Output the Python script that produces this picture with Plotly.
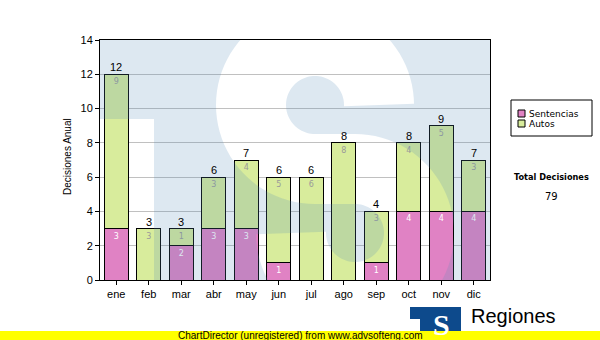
import numpy as np
import plotly.graph_objects as go

# ---------------- data ----------------
months = ["ene", "feb", "mar", "abr", "may", "jun", "jul", "ago", "sep", "oct", "nov", "dic"]
sentencias = [3, 0, 2, 3, 3, 1, 0, 0, 1, 4, 4, 4]
autos = [9, 3, 1, 3, 4, 5, 6, 8, 3, 4, 5, 3]
series_names = ["Sentencias", "Autos"]
y_ticks = [0, 2, 4, 6, 8, 10, 12, 14]
y_title = "Decisiones Anual"
total_title = "Total Decisiones"
brand_name = "Regiones"
footer_text = "ChartDirector (unregistered) from www.advsofteng.com"

totals = [s + a for s, a in zip(sentencias, autos)]
grand_total = sum(totals)
idx = list(range(len(months)))

# ---------------- canvas geometry ----------------
W, H = 600, 340
ML, MR, MT, MB = 100, 110, 40, 60
PW, PH = W - ML - MR, H - MT - MB
X_RANGE = (-0.5, len(months) - 0.5)
Y_RANGE = (0, 14)

PINK = "#e082c4"
GREEN = "#d8ec9c"
FONT_AX = "Liberation Sans, Arial, sans-serif"
FONT_UI = "DejaVu Sans, Verdana, sans-serif"


def to_paper(px, py):
    return (px - ML) / PW, (H - MB - py) / PH


def to_data(px, py):
    x = X_RANGE[0] + (px - ML) / PW * (X_RANGE[1] - X_RANGE[0])
    y = Y_RANGE[1] - (py - MT) / PH * (Y_RANGE[1] - Y_RANGE[0])
    return x, y


# ---------------- background "S" emblem ----------------
def s_outline(c1, c2, r, half):
    t1 = np.linspace(0, 1.5 * np.pi, 70)
    a1 = np.c_[c1[0] + r * np.cos(t1), c1[1] - r * np.sin(t1)]
    seg = np.c_[np.linspace(c1[0], c2[0], 6), np.full(6, c1[1] + r)]
    t2 = np.linspace(0.5 * np.pi, -np.pi, 70)
    a2 = np.c_[c2[0] + r * np.cos(t2), c2[1] - r * np.sin(t2)]
    pts = np.vstack([a1, seg[1:-1], a2])
    tang = np.gradient(pts, axis=0)
    tang /= np.linalg.norm(tang, axis=1, keepdims=True)
    nrm = np.c_[-tang[:, 1], tang[:, 0]]
    return np.vstack([pts + half * nrm, (pts - half * nrm)[::-1]])


def subpath(points):
    parts = []
    for i, (px, py) in enumerate(points):
        x, y = to_data(px, py)
        parts.append(f"{'M' if i == 0 else 'L'}{x:.4f},{y:.4f}")
    return " ".join(parts) + " Z"


frame = [(ML - 5, MT - 5), (ML + PW + 5, MT - 5), (ML + PW + 5, MT + PH + 5), (ML - 5, MT + PH + 5)]
notch = [(ML - 5, 119), (154, 119), (154, MT + PH + 5), (ML - 5, MT + PH + 5)]
emblem = subpath(frame) + " " + subpath(notch) + " " + subpath(s_outline((315, 105), (355, 233), 64, 35))

fig = go.Figure()

fig.add_bar(
    x=idx, y=sentencias, name=series_names[0], width=0.74,
    marker=dict(color=PINK, line=dict(color="black", width=1)),
    text=[str(v) if v else "" for v in sentencias],
    textposition="inside", insidetextanchor="end", textangle=0,
    textfont=dict(family=FONT_UI, size=8, color="white"),
    hoverinfo="skip",
)
fig.add_bar(
    x=idx, y=autos, name=series_names[1], width=0.74,
    marker=dict(color=GREEN, line=dict(color="black", width=1)),
    text=[str(v) if v else "" for v in autos],
    textposition="inside", insidetextanchor="end", textangle=0,
    textfont=dict(family=FONT_UI, size=8, color="#9a9a9a"),
    hoverinfo="skip",
)

shapes = [
    dict(type="path", path=emblem, xref="x", yref="y", layer="above",
         fillcolor="rgba(85,140,185,0.2)", fillrule="evenodd", line=dict(width=0)),
]

annotations = []
for i, t in enumerate(totals):
    annotations.append(dict(x=i, y=t, xref="x", yref="y", text=str(t), showarrow=False,
                            xanchor="center", yanchor="bottom", yshift=-1,
                            font=dict(family=FONT_AX, size=11, color="black")))


def note(px, py, text, size, family=FONT_AX, color="black", xanchor="center", **kw):
    x, y = to_paper(px, py)
    annotations.append(dict(x=x, y=y, xref="paper", yref="paper", text=text, showarrow=False,
                            xanchor=xanchor, yanchor="middle",
                            font=dict(family=family, size=size, color=color), **kw))


def box(px0, py0, px1, py1, fill, line=None):
    x0, y0 = to_paper(px0, py1)
    x1, y1 = to_paper(px1, py0)
    shapes.append(dict(type="rect", xref="paper", yref="paper", x0=x0, y0=y0, x1=x1, y1=y1,
                       line=line or dict(width=0), fillcolor=fill))


# axis title
note(67, 157, y_title, 10, textangle=-90)

# legend
box(511, 100, 592, 136, "white", dict(color="black", width=1))
for k, (name, col) in enumerate(zip(series_names, [PINK, GREEN])):
    cy = 113.5 + 10 * k
    box(518, cy - 3.5, 525, cy + 3.5, col, dict(color="black", width=1))
    note(527, cy, name, 9, family=FONT_UI, xanchor="left")

# grand total
note(551, 177, f"<b>{total_title}</b>", 8.2, family=FONT_UI)
note(551, 196, str(grand_total), 10, family=FONT_UI)

# brand block
box(410, 307, 461, 331, "#0d4a8c")
box(410, 319, 420, 331, "white")
note(441, 324, "<b>S</b>", 30, family="Liberation Serif, serif", color="white")
note(469, 316, brand_name, 20, xanchor="left")

# footer band
box(0, 331, 600, 340, "#ffff00")
note(300.5, 335.5, footer_text, 10)

fig.update_layout(
    width=W, height=H, barmode="stack", showlegend=False,
    margin=dict(l=ML, r=MR, t=MT, b=MB, pad=0),
    paper_bgcolor="white", plot_bgcolor="white",
    shapes=shapes, annotations=annotations,
    xaxis=dict(range=list(X_RANGE), tickmode="array", tickvals=idx, ticktext=months,
               ticks="outside", ticklen=4, tickcolor="black", showline=True, linecolor="black",
               linewidth=1, mirror=True, showgrid=False, zeroline=False,
               tickfont=dict(family=FONT_AX, size=11, color="black")),
    yaxis=dict(range=list(Y_RANGE), tickmode="array", tickvals=y_ticks,
               ticks="outside", ticklen=4, tickcolor="black", showline=True, linecolor="black",
               linewidth=1, mirror=True, showgrid=True, gridcolor="#c0c0c0", gridwidth=1,
               zeroline=False, tickfont=dict(family=FONT_AX, size=11, color="black")),
)

fig.write_html("out.html")
